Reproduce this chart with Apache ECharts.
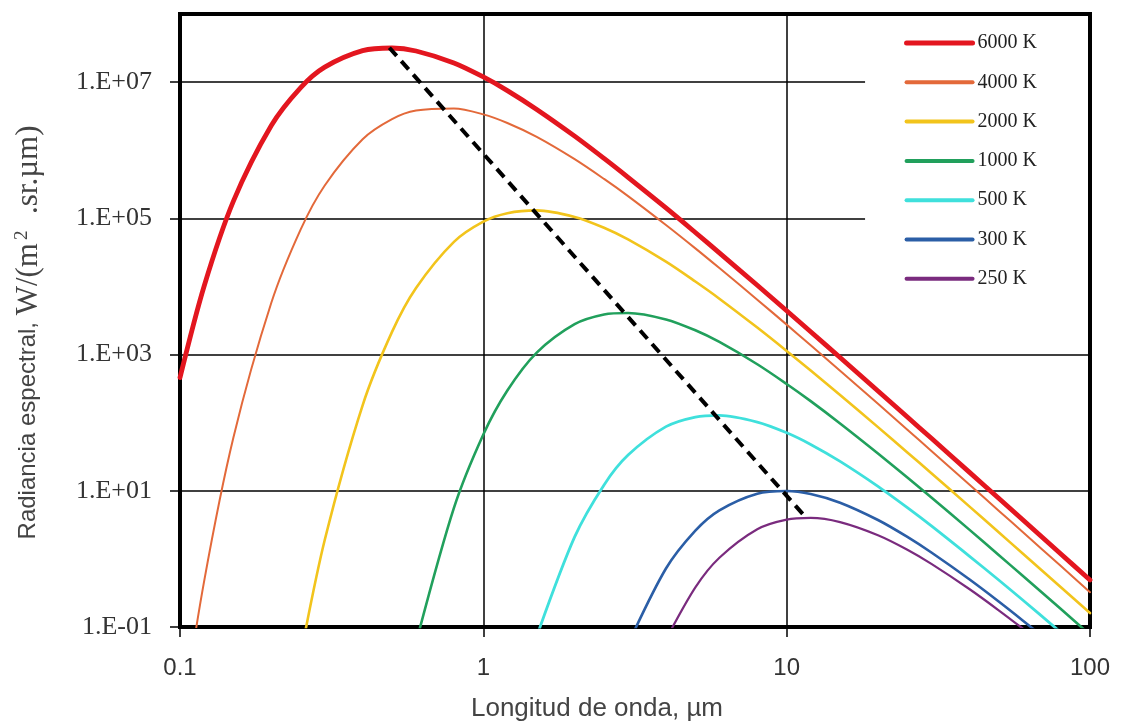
<!DOCTYPE html>
<html>
<head>
<meta charset="utf-8">
<script src="https://cdn.jsdelivr.net/npm/echarts@6/dist/echarts.min.js"></script>
<style>
  html, body { margin: 0; padding: 0; background: #fff; }
  #chart { width: 1123px; height: 727px; }
</style>
</head>
<body>
<div id="chart"></div>
<script>
// Wavelength samples (µm) shared by every curve
const wavelengths = [0.1, 0.12, 0.15, 0.2, 0.25, 0.3, 0.4, 0.5, 0.6, 0.8,
  1, 1.2, 1.5, 2, 2.5, 3, 4, 5, 6, 8,
  10, 12, 15, 20, 25, 30, 40, 50, 60, 80, 100];

const seriesNames = ['6000 K', '4000 K', '2000 K', '1000 K', '500 K', '300 K', '250 K'];

// Spectral radiance, W/(m².sr.µm); null where the curve is far below the axis
const radiance6000K = [459, 1.0e4, 1.79e5, 2.31e6, 8.32e6, 1.66e7, 2.90e7, 3.17e7, 2.86e7, 1.91e7,
  1.19e7, 7.51e6, 3.97e6, 1.61e6, 7.58e5, 4.00e5, 1.42e5, 6.19e4, 3.11e4, 1.04e4,
  4.40e3, 2.16e3, 904, 292, 121, 58.9, 18.8, 7.76, 3.75, 1.19, 0.491];
const radiance4000K = [0.00284, 0.459, 60.4, 5.75e3, 6.88e4, 3.04e5, 1.45e6, 2.86e6, 3.82e6, 4.10e6,
  3.36e6, 2.51e6, 1.57e6, 7.39e5, 3.79e5, 2.12e5, 7.97e4, 3.62e4, 1.86e4, 6.40e3,
  2.75e3, 1.37e3, 579, 189, 78.9, 38.5, 12.4, 5.11, 2.48, 0.790, 0.325];
const radiance2000K = [null, null, null, null, 0.0388, 1.89, 180, 2.15e3, 9.50e3, 4.52e4,
  8.95e4, 1.19e5, 1.31e5, 1.05e5, 7.28e4, 4.90e4, 2.31e4, 1.18e4, 6.61e3, 2.49e3,
  1.13e3, 583, 255, 86.0, 36.6, 18.1, 5.90, 2.46, 1.20, 0.386, 0.160];
const radiance1000K = [null, null, null, null, null, null, null, null, 0.059, 5.62,
  67.2, 297, 1.07e3, 2.80e3, 3.88e3, 4.08e3, 3.28e3, 2.27e3, 1.53e3, 721,
  370, 207, 97.4, 35.3, 15.7, 7.96, 2.69, 1.14, 0.565, 0.185, 0.0770];
const radiance500K = [null, null, null, null, null, null, null, null, null, null,
  null, null, 0.0731, 2.10, 12.2, 33.4, 87.4, 121, 128, 102,
  71.0, 47.9, 27.0, 11.6, 5.65, 3.05, 1.10, 0.490, 0.249, 0.0839, null];
const radiance300K = [null, null, null, null, null, null, null, null, null, null,
  null, null, null, null, null, 0.0559, 0.722, 2.60, 5.17, 9.08,
  9.92, 8.96, 6.68, 3.72, 2.10, 1.24, 0.502, 0.237, 0.125, 0.0442, null];
const radiance250K = [null, null, null, null, null, null, null, null, null, null,
  null, null, null, null, null, null, 0.0656, 0.382, 1.04, 2.73,
  3.78, 3.99, 3.46, 2.22, 1.36, 0.844, 0.361, 0.176, 0.0951, null, null];

// Locus of the peaks (Wien displacement), drawn dashed
const wienPeakLine = [[0.49, 3.2e7], [11.6, 4.0]];

// Tick positions and labels
const xTickValues = [0.1, 1, 10, 100];
const xTickLabels = ['0.1', '1', '10', '100'];
const yTickValues = [0.1, 10, 1e3, 1e5, 1e7];
const yTickLabels = ['1.E-01', '1.E+01', '1.E+03', '1.E+05', '1.E+07'];

const radianceSeries = [radiance6000K, radiance4000K, radiance2000K, radiance1000K,
  radiance500K, radiance300K, radiance250K];
const lineColors = ['#e3161f', '#e3693a', '#f2c41c', '#21a05c', '#3fe0dc', '#2b5ea6', '#7a2b7e'];
const lineWidths = [4.8, 2, 2.6, 2.6, 2.8, 2.6, 2.2];
const legendWidths = [5, 4, 4, 4, 4, 4, 4];

function tickFormatter(values, labels) {
  return function (v) {
    const i = values.findIndex(t => Math.abs(Math.log10(t) - Math.log10(v)) < 1e-6);
    return i >= 0 ? labels[i] : '';
  };
}

const series = radianceSeries.map((vals, i) => ({
  name: seriesNames[i],
  type: 'line',
  data: wavelengths.map((w, j) => [w, vals[j]]),
  showSymbol: false,
  symbol: 'none',
  smooth: 0.3,
  connectNulls: false,
  clip: true,
  z: 10 - i,
  lineStyle: { color: lineColors[i], width: lineWidths[i], cap: 'round', join: 'round' },
  itemStyle: { color: lineColors[i] }
}));

series.push({
  name: 'wien',
  type: 'line',
  data: wienPeakLine,
  symbol: 'none',
  z: 20,
  lineStyle: { color: '#000', width: 4, type: [11, 7] }
});

const chart = echarts.init(document.getElementById('chart'), null, { renderer: 'canvas' });
chart.setOption({
  animation: false,
  backgroundColor: '#fff',
  grid: {
    left: 180, right: 33, top: 14, bottom: 97,
    show: true, borderColor: '#000', borderWidth: 4, backgroundColor: 'transparent'
  },
  legend: {
    orient: 'vertical',
    right: 35, top: 23,
    padding: [10, 51, 10, 39],
    backgroundColor: '#fff',
    itemWidth: 66, itemHeight: 20, itemGap: 19.3,
    textStyle: { fontFamily: 'Liberation Serif', fontSize: 20, color: '#222', lineHeight: 20 },
    data: seriesNames.map((n, i) => ({
      name: n,
      itemStyle: { opacity: 0 },
      lineStyle: { width: legendWidths[i], cap: 'round', color: lineColors[i] }
    }))
  },
  xAxis: {
    type: 'log', logBase: 10, min: 0.1, max: 100,
    name: 'Longitud de onda, µm',
    nameLocation: 'middle', nameGap: 69,
    nameTextStyle: { fontFamily: 'Liberation Sans', fontSize: 26, color: '#444', padding: [0, 76, 0, 0] },
    axisLine: { show: false },
    axisTick: { show: true, length: 10, customValues: xTickValues, lineStyle: { color: '#000', width: 1.5 } },
    axisLabel: {
      customValues: xTickValues, formatter: tickFormatter(xTickValues, xTickLabels),
      margin: 29, fontFamily: 'Liberation Sans', fontSize: 24, color: '#333'
    },
    splitLine: { show: true, lineStyle: { color: '#000', width: 1.5 } },
    minorTick: { show: false }, minorSplitLine: { show: false }
  },
  yAxis: {
    type: 'log', logBase: 10, min: 0.1, max: 1e8,
    name: '{s|Radiancia espectral, }{t|W/(m}{sup|2}{t|  .sr.µm)}',
    nameLocation: 'middle', nameGap: 136, nameRotate: 90,
    nameTextStyle: {
      padding: [0, 24, 0, 0],
      rich: {
        s: { fontFamily: 'Liberation Sans', fontSize: 24, color: '#444' },
        t: { fontFamily: 'Liberation Serif', fontSize: 31, color: '#444' },
        sup: { fontFamily: 'Liberation Serif', fontSize: 19, color: '#444', verticalAlign: 'top', padding: [0, 1, 0, 3] }
      }
    },
    axisLine: { show: false },
    axisTick: { show: true, length: 10, customValues: yTickValues, lineStyle: { color: '#000', width: 1.5 } },
    axisLabel: {
      customValues: yTickValues, formatter: tickFormatter(yTickValues, yTickLabels),
      margin: 28, fontFamily: 'Liberation Serif', fontSize: 26, color: '#333'
    },
    splitLine: { show: true, lineStyle: { color: '#000', width: 1.5 } },
    minorTick: { show: false }, minorSplitLine: { show: false }
  },
  series: series
});
</script>
</body>
</html>
